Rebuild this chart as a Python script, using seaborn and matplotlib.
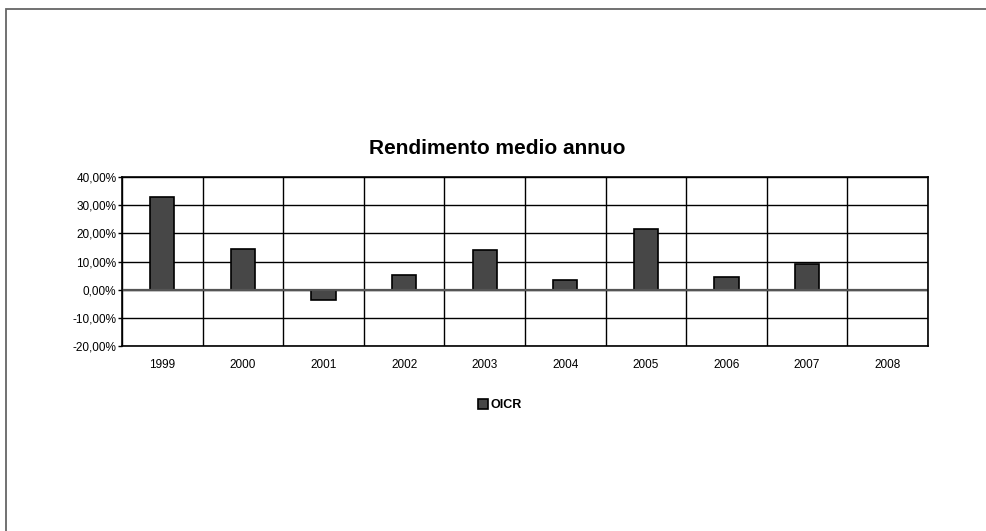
import numpy as np
import pandas as pd
import seaborn as sns
import matplotlib.pyplot as plt
from matplotlib.patches import Rectangle
from matplotlib.ticker import FuncFormatter, FixedLocator

years = ['1999', '2000', '2001', '2002', '2003', '2004', '2005', '2006', '2007', '2008']
oicr = [32.8, 14.6, -3.6, 5.2, 14.2, 3.4, 21.5, 4.5, 9.1, 0.0]

sns.set_style('white')
plt.rcParams['font.family'] = ['Liberation Sans', 'DejaVu Sans']
plt.rcParams['text.color'] = 'black'
plt.rcParams['xtick.color'] = 'black'
plt.rcParams['ytick.color'] = 'black'

df = pd.DataFrame({'anno': years, 'OICR': oicr})

fig = plt.figure(figsize=(9.86, 5.31), dpi=100)
ax = fig.add_axes([122 / 986, 1 - 346 / 531, (928 - 122) / 986, (346 - 177) / 531])

sns.barplot(data=df, x='anno', y='OICR', color='#474747', width=0.3,
            edgecolor='black', linewidth=1.2, saturation=1, ax=ax, label='OICR')

ax.set_ylim(-20, 40)
ax.set_xlim(-0.5, len(years) - 0.5)
ax.set_yticks(np.arange(-20, 41, 10))
ax.yaxis.set_major_formatter(FuncFormatter(lambda v, p: f'{v:.2f}%'.replace('.', ',')))
ax.xaxis.set_minor_locator(FixedLocator(np.arange(-0.5, len(years), 1.0)))
ax.grid(True, axis='y', which='major', color='black', linewidth=1)
ax.grid(True, axis='x', which='minor', color='black', linewidth=1)
ax.grid(False, axis='x', which='major')
ax.axhline(0, color='#555555', linewidth=1.6, zorder=1)
ax.set_axisbelow(True)
for s in ax.spines.values():
    s.set_color('black')
    s.set_linewidth(1.2)

ax.tick_params(axis='y', labelsize=8.5, length=3, left=True, width=1, pad=1)
ax.tick_params(axis='x', labelsize=8.5, length=0, pad=9)
ax.tick_params(axis='x', which='minor', length=0)
ax.set_xlabel('')
ax.set_ylabel('')

fig.text(0.504, 1 - 148 / 531, 'Rendimento medio annuo', ha='center', va='center',
         fontsize=15, fontweight='bold')

leg = ax.legend(loc='center', bbox_to_anchor=(0.507, 1 - 405 / 531),
                bbox_transform=fig.transFigure, frameon=False,
                handlelength=0.8, handleheight=0.8, handletextpad=0.2,
                prop={'size': 9, 'weight': 'bold'})

fig.patches.append(Rectangle((6 / 986, -0.1), 1.1, 1 - 9 / 531 + 0.1,
                             transform=fig.transFigure, fill=False,
                             edgecolor='#666666', linewidth=1.3))

fig.savefig('out.png', dpi=100)
